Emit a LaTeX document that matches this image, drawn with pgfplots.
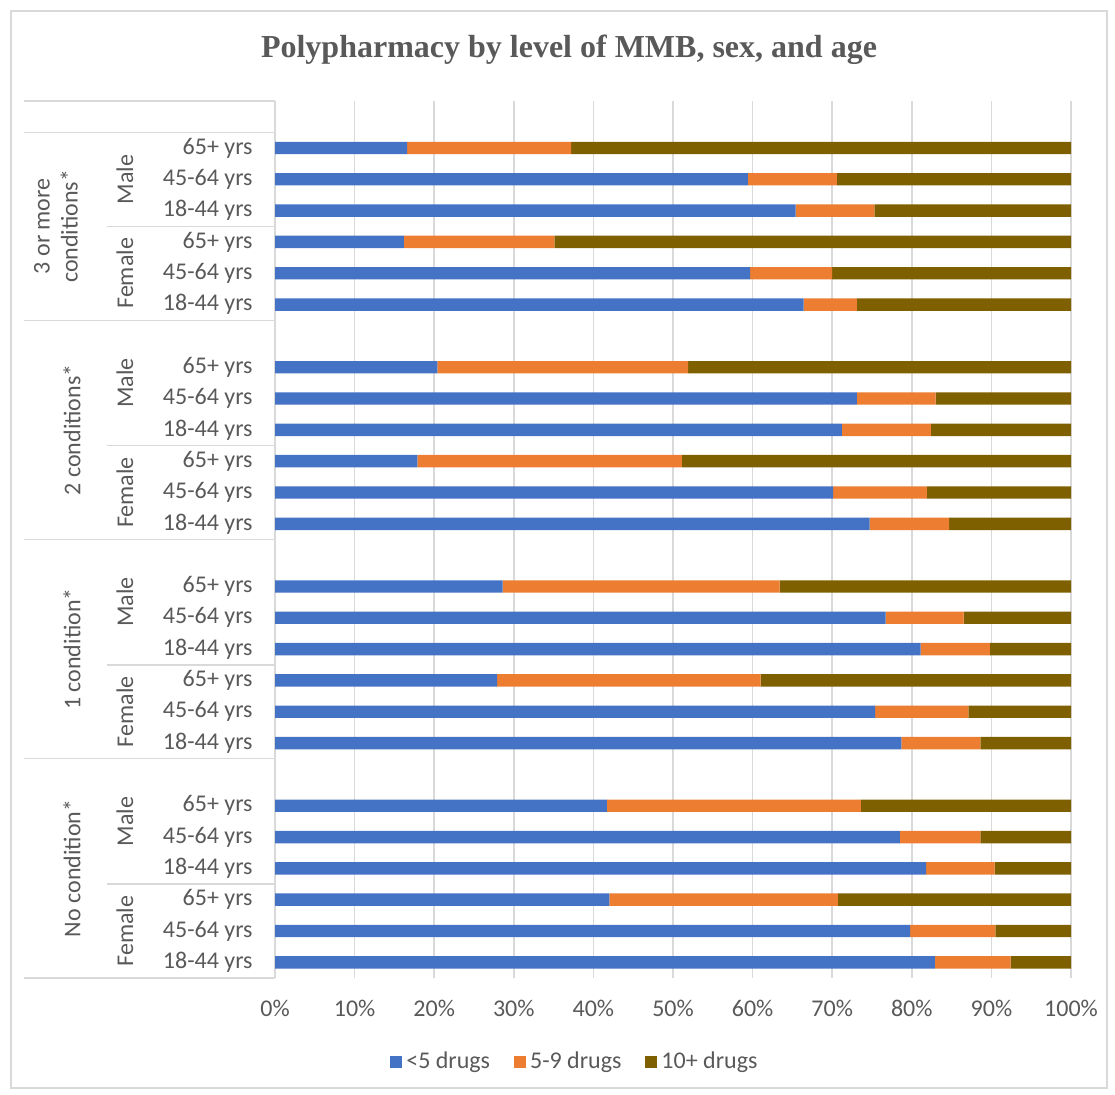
\documentclass[border=0pt]{standalone}
\usepackage{fontspec}
\setmainfont{Carlito}
\newfontfamily\titlefont{Liberation Serif}
\usepackage{pgfplots}
\usepackage{pgfplotstable}
\pgfplotsset{compat=1.18}
\definecolor{cblue}{HTML}{4472C4}
\definecolor{corange}{HTML}{ED7D31}
\definecolor{cbrown}{HTML}{7F6000}
\definecolor{txt}{HTML}{595959}
\definecolor{gridc}{HTML}{D9D9D9}

% row index (bottom = 0), <5 drugs, 5-9 drugs, 10+ drugs (percent of group)
\pgfplotstableread{
row a b c
0 82.9 9.5 7.6
1 79.8 10.7 9.5
2 42.0 28.7 29.3
3 81.8 8.6 9.6
4 78.5 10.1 11.4
5 41.7 31.9 26.4
7 78.7 9.9 11.4
8 75.4 11.7 12.9
9 27.9 33.1 39.0
10 81.1 8.7 10.2
11 76.7 9.8 13.5
12 28.6 34.8 36.6
14 74.7 10.0 15.3
15 70.1 11.8 18.1
16 17.9 33.2 48.9
17 71.2 11.2 17.6
18 73.1 9.9 17.0
19 20.4 31.5 48.1
21 66.4 6.7 26.9
22 59.7 10.3 30.0
23 16.2 18.9 64.9
24 65.4 9.9 24.9
25 59.4 11.2 29.4
26 16.6 20.6 62.8
}\data

\begin{document}
\begin{tikzpicture}[x=0.5pt,y=-0.5pt]
\path[use as bounding box] (0,0) rectangle (1115,1095);
\draw[gridc, line width=0.75pt] (11,11) rectangle (1107,1088);
\node[font=\titlefont\bfseries\fontsize{16}{19}\selectfont, text=txt] at (569,50) {Polypharmacy by level of MMB, sex, and age};

\begin{axis}[
  at={(137.5pt,-489pt)}, anchor=south west,
  scale only axis, width=398pt, height=438.5pt,
  xbar stacked, bar width=6.2pt,
  xmin=0, xmax=100, ymin=-0.5, ymax=27.5,
  axis line style={draw=none},
  ytick=\empty,
  xtick={0,10,...,100},
  xticklabels={0\%,10\%,20\%,30\%,40\%,50\%,60\%,70\%,80\%,90\%,100\%},
  x tick label style={font=\fontsize{12}{14}\selectfont, text=txt, anchor=center, yshift=-15pt},
  major tick length=0pt,
  xmajorgrids=true,
  grid style={gridc, line width=0.85pt},
  legend columns=3,
  legend image code/.code={\fill[#1] (0pt,-3pt) rectangle (6pt,3pt);},
  legend style={at={(0.378,-0.0958)}, anchor=center, draw=none, fill=none,
    font=\fontsize{12}{14}\selectfont, text=txt,
    /tikz/every even column/.append style={column sep=10pt}},
]
\addplot[fill=cblue, draw=none] table[x=a, y=row] {\data};
\addplot[fill=corange, draw=none] table[x=b, y=row] {\data};
\addplot[fill=cbrown, draw=none] table[x=c, y=row] {\data};
\legend{<5 drugs, 5-9 drugs, 10+ drugs}
\end{axis}

% category table lines
\foreach \b in {-0.5, 6.5, 13.5, 20.5, 26.5, 27.5}
  \draw[gridc, line width=0.75pt] (24,{978-31.321*(\b+0.5)}) -- (275,{978-31.321*(\b+0.5)});
\foreach \b in {2.5, 9.5, 16.5, 23.5}
  \draw[gridc, line width=0.75pt] (107,{978-31.321*(\b+0.5)}) -- (275,{978-31.321*(\b+0.5)});

% age labels
\foreach \g in {0,7,14,21}{
  \foreach \k/\t in {0/18-44 yrs, 1/45-64 yrs, 2/65+ yrs, 3/18-44 yrs, 4/45-64 yrs, 5/65+ yrs}{
    \node[anchor=east, inner sep=0pt, text=txt, font=\fontsize{12}{14}\selectfont]
      at (253,{978-31.321*(\g+\k+0.5)}) {\t};
  }
  \node[rotate=90, text=txt, font=\fontsize{12}{14}\selectfont] at (125,{978-31.321*(\g+1.5)}) {Female};
}
\node[rotate=90, text=txt, font=\fontsize{12}{14}\selectfont] at (125,{978-31.321*(4.5+0.5)}) {Male};
\node[rotate=90, text=txt, font=\fontsize{12}{14}\selectfont] at (125,{978-31.321*(11.5+0.5)}) {Male};
\node[rotate=90, text=txt, font=\fontsize{12}{14}\selectfont] at (125,{978-31.321*(18.5+0.5)}) {Male};
\node[rotate=90, text=txt, font=\fontsize{12}{14}\selectfont] at (125,{978-31.321*(25+0.5)}) {Male};

% group labels
\node[rotate=90, text=txt, font=\fontsize{12}{14}\selectfont] at (72,{978-31.321*(3+0.5)}) {No condition*};
\node[rotate=90, text=txt, font=\fontsize{12}{14}\selectfont] at (72,{978-31.321*(10+0.5)}) {1 condition*};
\node[rotate=90, text=txt, font=\fontsize{12}{14}\selectfont] at (72,{978-31.321*(17+0.5)}) {2 conditions*};
\node[rotate=90, text=txt, align=center, font=\fontsize{12}{14}\selectfont] at (56,{978-31.321*(23.5+0.5)}) {3 or more\\conditions*};
\end{tikzpicture}
\end{document}
